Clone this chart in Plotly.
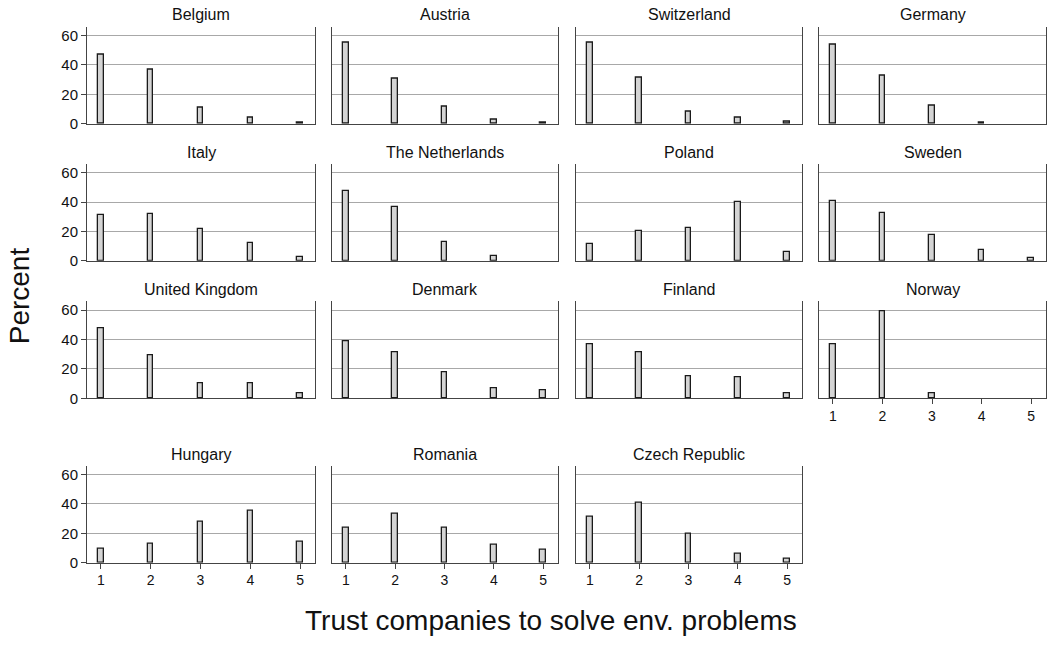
import plotly.graph_objects as go

categories = [1, 2, 3, 4, 5]
countries = ["Belgium", "Austria", "Switzerland", "Germany",
             "Italy", "The Netherlands", "Poland", "Sweden",
             "United Kingdom", "Denmark", "Finland", "Norway",
             "Hungary", "Romania", "Czech Republic"]

belgium = [47, 37, 11, 4, 1]
austria = [55, 30.5, 11.5, 2.5, 0.7]
switzerland = [55, 31, 8, 4, 1.5]
germany = [54, 32.5, 12.5, 1, 0]
italy = [31, 32, 21.5, 12, 2.5]
netherlands = [47.5, 37, 12.5, 3, 0]
poland = [11.5, 20.5, 22.5, 40, 6]
sweden = [41, 32.5, 17.5, 7.5, 2]
united_kingdom = [47.5, 29, 10.5, 10.5, 3.5]
denmark = [38.5, 31, 17.5, 7, 5.5]
finland = [36.5, 31, 15, 14, 3.5]
norway = [37, 59.5, 3.5, 0, 0]
hungary = [9.5, 12.5, 28, 35, 14.5]
romania = [23.5, 33.5, 23.5, 12, 8.5]
czech_republic = [31.5, 41, 19.5, 6, 2.5]

values = [belgium, austria, switzerland, germany,
          italy, netherlands, poland, sweden,
          united_kingdom, denmark, finland, norway,
          hungary, romania, czech_republic]

y_ticks = [0, 20, 40, 60]

W, H = 1049, 646
col_px = [(87, 315), (332, 558), (576, 802), (819, 1046)]
row_px = [(27, 125.3), (166, 264), (305, 403.3), (471.7, 569.7)]

FONT = "Liberation Sans, Arial, sans-serif"
TXT = "#111111"
LINE = "#444444"

fig = go.Figure()
annotations = []
layout_axes = {}
for i, (name, vals) in enumerate(zip(countries, values)):
    r, c = divmod(i, 4)
    sfx = "" if i == 0 else str(i + 1)
    fig.add_trace(go.Bar(
        x=categories, y=[v if v > 0 else None for v in vals],
        xaxis="x" + sfx, yaxis="y" + sfx,
        width=0.11, showlegend=False,
        marker=dict(color="#d4d4d4", line=dict(color="#1a1a1a", width=1.3)),
    ))
    x0, x1 = col_px[c]
    y0, y1 = row_px[r]
    show_x = (r == 3) or (name == "Norway")
    layout_axes["xaxis" + sfx] = dict(
        domain=[x0 / W, x1 / W], anchor="y" + sfx, range=[0.72, 5.3],
        showline=True, linecolor=LINE, linewidth=1, showgrid=False, zeroline=False,
        tickvals=categories if show_x else [], ticks="outside" if show_x else "",
        ticklen=5, tickcolor=LINE, showticklabels=show_x,
        tickfont=dict(family=FONT, size=14, color=TXT), fixedrange=True,
    )
    layout_axes["yaxis" + sfx] = dict(
        domain=[1 - y1 / H, 1 - y0 / H], anchor="x" + sfx, range=[0, 66],
        showline=True, mirror=True, linecolor=LINE, linewidth=1,
        showgrid=True, gridcolor="#a8a8a8", gridwidth=1, zeroline=False,
        tickvals=y_ticks, ticks="outside" if c == 0 else "", ticklen=5,
        tickcolor=LINE, showticklabels=(c == 0),
        tickfont=dict(family=FONT, size=15, color=TXT), fixedrange=True,
    )
    annotations.append(dict(
        text=name, x=(x0 + x1) / 2 / W, y=1 - (y0 - 12) / H,
        xref="paper", yref="paper", xanchor="center", yanchor="middle",
        showarrow=False, font=dict(family=FONT, size=16, color=TXT),
    ))

annotations.append(dict(
    text="Percent", x=19 / W, y=1 - 300 / H, xref="paper", yref="paper",
    xanchor="center", yanchor="middle", textangle=-90, showarrow=False,
    font=dict(family=FONT, size=28, color=TXT),
))
annotations.append(dict(
    text="Trust companies to solve env. problems", x=551 / W, y=1 - 628 / H,
    xref="paper", yref="paper", xanchor="center", yanchor="middle",
    showarrow=False, font=dict(family=FONT, size=28, color=TXT),
))

fig.update_layout(
    width=W, height=H, margin=dict(l=0, r=0, t=0, b=0),
    paper_bgcolor="white", plot_bgcolor="white",
    annotations=annotations, bargap=0, **layout_axes,
)

fig.write_html(
    "out.html", config={"displayModeBar": False},
    post_script="document.body.style.margin='0';document.body.style.overflow='hidden';",
)
